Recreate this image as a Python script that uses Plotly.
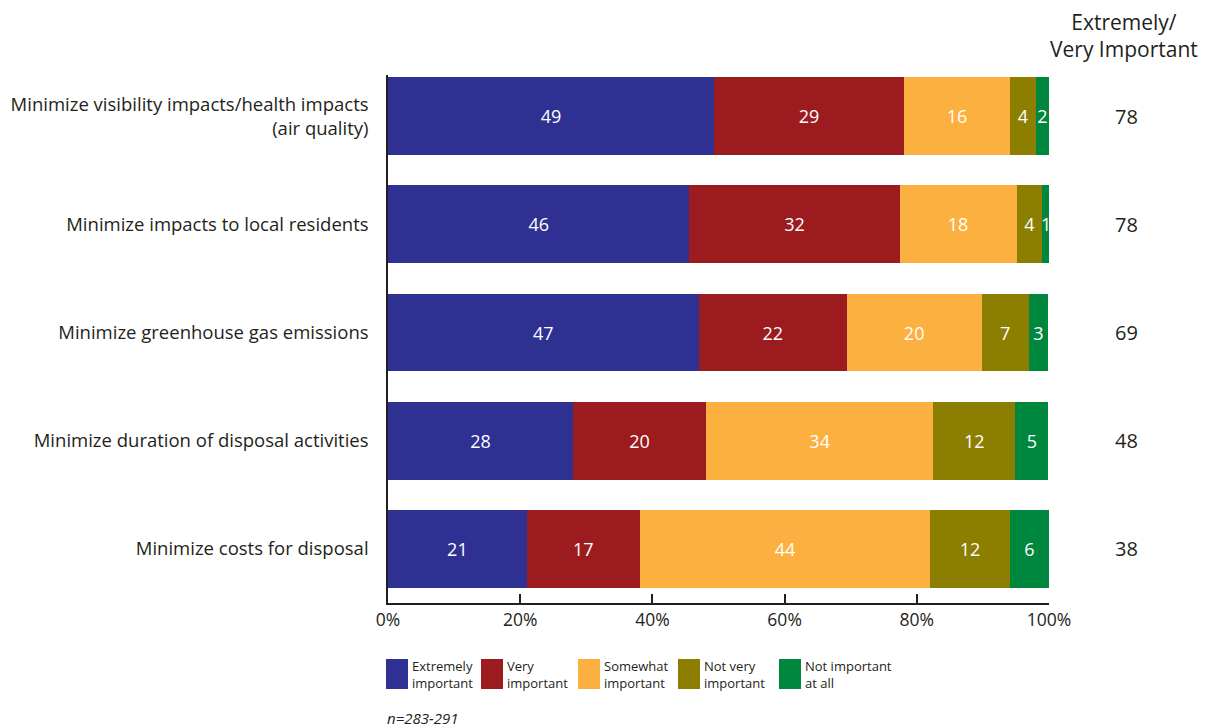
""" Importance of disposal considerations - stacked bar chart """

from plotly import graph_objects as go

categories = [
    "Minimize visibility impacts/health impacts<br>(air quality)",
    "Minimize impacts to local residents",
    "Minimize greenhouse gas emissions",
    "Minimize duration of disposal activities",
    "Minimize costs for disposal",
]
series_names = [
    "Extremely<br>important",
    "Very<br>important",
    "Somewhat<br>important",
    "Not very<br>important",
    "Not important<br>at all",
]
extremely = [49.3, 45.6, 47.0, 28.0, 21.0]
very = [28.8, 31.8, 22.4, 20.1, 17.1]
somewhat = [16.0, 17.7, 20.4, 34.4, 43.9]
not_very = [3.9, 3.9, 7.1, 12.4, 12.1]
not_at_all = [2.0, 1.1, 3.0, 5.0, 5.9]
top2 = [78, 78, 69, 48, 38]
tick_vals = [0, 20, 40, 60, 80, 100]
tick_text = ["0%", "20%", "40%", "60%", "80%", "100%"]

colors = ["#2E3192", "#9B1B1F", "#FBB040", "#8C7E00", "#00873E"]
FONT = "Open Sans"
DARK = "#231F20"

# page has an 8px body margin; plot area sits at x 388-1049, y 75-603 on screen
PX0, PX1, PY0, PY1 = 388, 1049, 75, 603


def px(x):
    return (x - PX0) / (PX1 - PX0)


def py(y):
    return (PY1 - y) / (PY1 - PY0)


series = [extremely, very, somewhat, not_very, not_at_all]
ypos = list(range(len(categories)))

fig = go.Figure()
for name, vals, col in zip(series_names, series, colors):
    fig.add_trace(
        go.Bar(
            x=vals,
            y=ypos,
            orientation="h",
            name=name,
            marker=dict(color=col, line=dict(width=0)),
            width=0.72,
            texttemplate="%{x:.0f}",
            textposition="inside",
            insidetextanchor="middle",
            constraintext="none",
            textfont=dict(family=FONT, size=18, color="white"),
            showlegend=False,
            hoverinfo="skip",
        )
    )

# right-hand totals column
for y, v in zip(ypos, top2):
    fig.add_annotation(
        x=px(1126.5), xref="paper", y=y, yref="y", text=str(v), showarrow=False,
        font=dict(family=FONT, size=20, color=DARK), xanchor="center",
    )
fig.add_annotation(
    x=px(1124), xref="paper", y=py(65), yref="paper",
    text="Extremely/<br>Very Important", showarrow=False, yanchor="bottom",
    font=dict(family=FONT, size=21, color=DARK), xanchor="center", align="center",
)

# custom legend with larger swatches
legend_x = [386, 481, 578, 678, 779]
for lx, name, col in zip(legend_x, series_names, colors):
    fig.add_shape(
        type="rect", xref="paper", yref="paper",
        x0=px(lx), x1=px(lx + 22), y0=py(689), y1=py(659),
        fillcolor=col, line=dict(width=0),
    )
    fig.add_annotation(
        x=px(lx + 24), xref="paper", y=py(674), yref="paper",
        text=name, showarrow=False, xanchor="left", yanchor="middle", align="left",
        font=dict(family=FONT, size=13, color=DARK),
    )

fig.add_annotation(
    x=px(385), xref="paper", y=py(718), yref="paper",
    text="<i>n=283-291</i>", showarrow=False, xanchor="left", yanchor="middle",
    font=dict(family=FONT, size=15, color=DARK),
)

fig.update_layout(
    barmode="stack",
    width=1201,
    height=720,
    margin=dict(l=PX0 - 8, r=1209 - PX1, t=PY0 - 8, b=728 - PY1),
    plot_bgcolor="white",
    paper_bgcolor="white",
    uniformtext=dict(minsize=18, mode="show"),
    font=dict(family=FONT, color=DARK),
)
fig.update_xaxes(
    range=[0, 100],
    tickvals=tick_vals,
    ticktext=tick_text,
    ticks="inside",
    ticklen=9,
    tickwidth=1.5,
    tickcolor=DARK,
    showline=True,
    linecolor=DARK,
    linewidth=2,
    showgrid=False,
    zeroline=False,
    automargin=False,
    tickfont=dict(family=FONT, size=17.5, color=DARK),
)
fig.update_yaxes(
    range=[4.5, -0.38],
    tickvals=ypos,
    ticktext=categories,
    ticks="",
    showline=True,
    linecolor=DARK,
    linewidth=1.5,
    showgrid=False,
    zeroline=False,
    automargin=False,
    ticklabelstandoff=14,
    tickfont=dict(family=FONT, size=18.5, color=DARK),
)

fig.write_html("out.html")
